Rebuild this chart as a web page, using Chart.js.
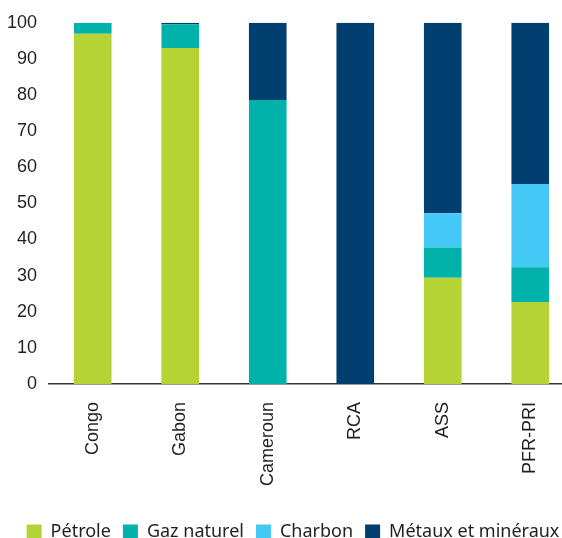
<!DOCTYPE html>
<html>
<head>
<meta charset="utf-8">
<script src="https://cdn.jsdelivr.net/npm/chart.js@4"></script>
<style>
  html, body { margin: 0; padding: 0; background: #ffffff; }
  #wrap { width: 562px; height: 538px; position: relative; }
</style>
</head>
<body>
<div id="wrap"><canvas id="c"></canvas></div>
<script>
const categories = ["Congo", "Gabon", "Cameroun", "RCA", "ASS", "PFR-PRI"];
const petrole = [97, 93, 0, 0, 29.4, 22.7];
const gazNaturel = [3, 6.6, 78.6, 0, 8.4, 9.6];
const charbon = [0, 0, 0, 0, 9.5, 23.1];
const metaux = [0, 0.4, 21.4, 100, 52.7, 44.6];
const yTicks = [0, 10, 20, 30, 40, 50, 60, 70, 80, 90, 100];

const axisFont = { family: "'Liberation Sans', Arial, sans-serif", size: 18 };
const legendFont = { family: "'Noto Sans', Lato, sans-serif", size: 18 };

const mk = (label, data, color) => ({
  label, data, backgroundColor: color, borderWidth: 0,
  barPercentage: 0.43, categoryPercentage: 1.0
});

// keep each category band at 87.5px, starting from the axis origin
const bandPlugin = {
  id: 'band',
  afterLayout(chart) {
    const s = chart.scales.x;
    s._startValue = -0.5;
    s._valueRange = (s.right - s.left) / 87.5;
  }
};

new Chart(document.getElementById('c'), {
  type: 'bar',
  data: {
    labels: categories,
    datasets: [
      mk("Pétrole", petrole, "#B5D334"),
      mk("Gaz naturel", gazNaturel, "#00B2AA"),
      mk("Charbon", charbon, "#44C8F5"),
      mk("Métaux et minéraux", metaux, "#003F6F")
    ]
  },
  plugins: [bandPlugin],
  options: {
    responsive: true,
    maintainAspectRatio: false,
    animation: false,
    layout: { padding: { top: 21, left: 0, right: -24, bottom: -13 } },
    plugins: {
      legend: {
        position: 'bottom',
        labels: {
          boxWidth: 15, boxHeight: 15, padding: 12,
          color: '#231F20', font: legendFont
        }
      },
      tooltip: { enabled: false }
    },
    scales: {
      x: {
        stacked: true,
        grid: { display: false },
        border: { display: true, color: '#333333', width: 1.5 },
        ticks: {
          color: '#231F20', font: axisFont,
          minRotation: 90, maxRotation: 90, padding: 10, autoSkip: false
        },
        afterFit: (s) => { s.height = 127; }
      },
      y: {
        stacked: true,
        min: 0, max: 100,
        grid: { display: false, drawTicks: false },
        border: { display: false },
        afterBuildTicks: (s) => { s.ticks = yTicks.map(v => ({ value: v })); },
        ticks: { color: '#231F20', font: axisFont, padding: 12 },
        afterFit: (s) => { s.width = 49; }
      }
    }
  }
});
</script>
</body>
</html>
